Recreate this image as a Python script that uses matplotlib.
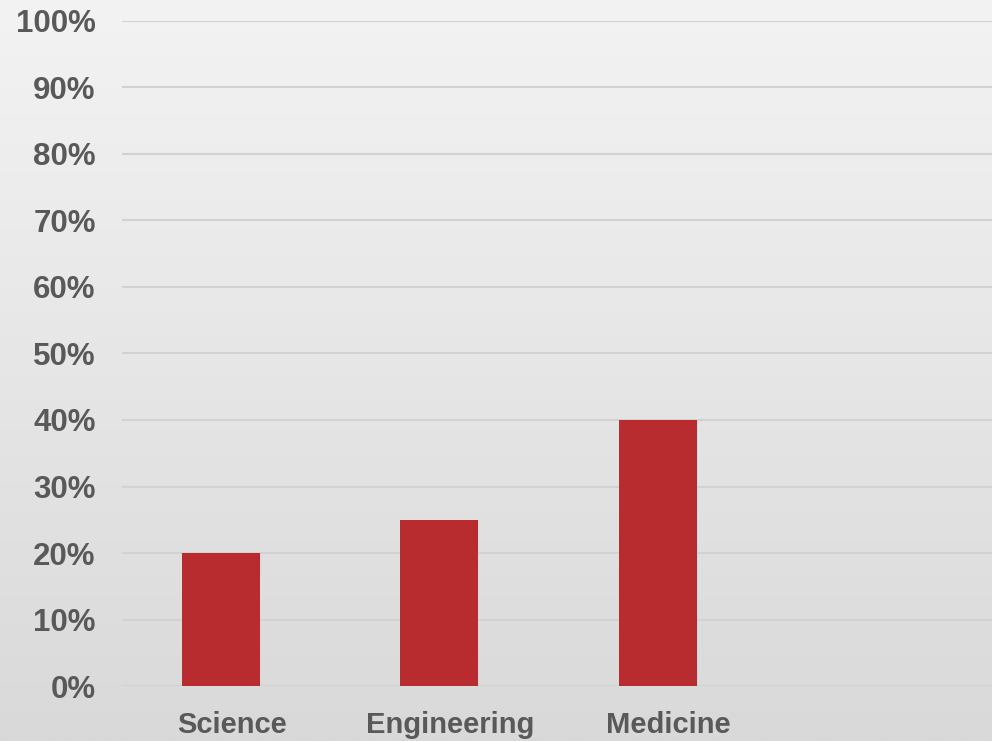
import matplotlib.pyplot as plt
import matplotlib.transforms as mtransforms
import numpy as np
from matplotlib.colors import LinearSegmentedColormap
from matplotlib.ticker import PercentFormatter

categories = ['Science', 'Engineering', 'Medicine']
values = [20, 25, 40]
y_ticks = list(range(0, 101, 10))

bar_color = '#b82c30'
text_color = '#595959'

fig = plt.figure(figsize=(9.92, 7.41), dpi=100)

# gradient background
bg = fig.add_axes([0, 0, 1, 1], zorder=0)
grad = np.linspace(0, 1, 256).reshape(-1, 1)
bg.imshow(grad, aspect='auto', cmap=LinearSegmentedColormap.from_list('bg', ['#f3f3f3', '#d9d9d9']),
          extent=[0, 1, 0, 1], origin='upper')
bg.axis('off')

ax = fig.add_axes([0.123, 0.0742, 0.877, 0.8975], zorder=1)
ax.patch.set_alpha(0)

x = np.arange(len(categories))
ax.bar(x, values, width=0.357, color=bar_color, zorder=3)

ax.set_xlim(-0.453, 3.53)
ax.set_ylim(0, 100)
ax.set_yticks(y_ticks)
ax.yaxis.set_major_formatter(PercentFormatter(decimals=0))
ax.set_xticks(x)
ax.set_xticklabels(categories)

ax.grid(axis='y', color='#d2d2d2', linewidth=1.5, zorder=0)
for s in ax.spines.values():
    s.set_visible(False)
ax.tick_params(axis='both', length=0, colors=text_color)
ax.tick_params(axis='y', pad=19, labelsize=22.5)
ax.tick_params(axis='x', pad=18, labelsize=21)

shift = mtransforms.ScaledTranslation(11 / 100, 0, fig.dpi_scale_trans)
for lbl in ax.get_xticklabels():
    lbl.set_family(['Liberation Sans', 'DejaVu Sans'])
    lbl.set_fontweight('bold')
    lbl.set_transform(lbl.get_transform() + shift)
for lbl in ax.get_yticklabels():
    lbl.set_family(['Liberation Sans', 'DejaVu Sans'])
    lbl.set_fontweight('bold')

plt.savefig('out.png', dpi=100)
